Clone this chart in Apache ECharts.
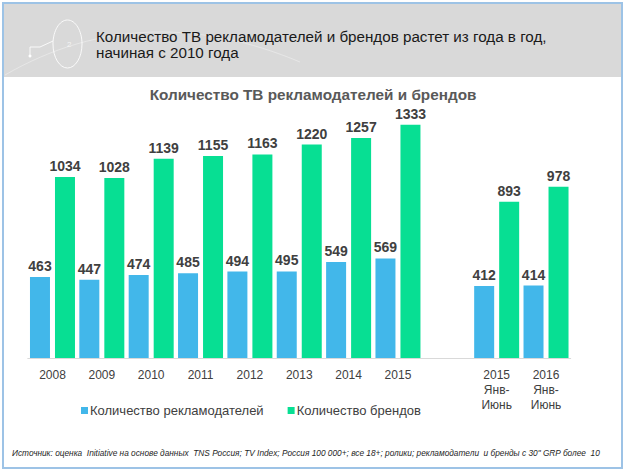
<!DOCTYPE html>
<html>
<head>
<meta charset="utf-8">
<script src="https://cdn.jsdelivr.net/npm/echarts@6/dist/echarts.min.js"></script>
<style>
html,body{margin:0;padding:0;background:#fff;}
#c{width:626px;height:472px;}
</style>
</head>
<body>
<div id="c"></div>
<script>
var categories = ['2008','2009','2010','2011','2012','2013','2014','2015','','2015\nЯнв-\nИюнь','2016\nЯнв-\nИюнь'];
var advertisers = [463, 447, 474, 485, 494, 495, 549, 569, '-', 412, 414];
var brands = [1034, 1028, 1139, 1155, 1163, 1220, 1257, 1333, '-', 893, 978];
var seriesNames = ['Количество рекламодателей', 'Количество брендов'];
var headerText = 'Количество ТВ рекламодателей и брендов растет из года в год,\nначиная с 2010 года';
var chartTitle = 'Количество ТВ рекламодателей и брендов';
var sourceNote = 'Источник: оценка  Initiative на основе данных  TNS Россия; TV Index; Россия 100 000+; все 18+; ролики; рекламодатели  и бренды с 30" GRP более  10';

var chart = echarts.init(document.getElementById('c'), null, {renderer: 'svg'});
var font = '"Liberation Sans", Arial, sans-serif';
chart.setOption({
  animation: false,
  backgroundColor: '#ffffff',
  textStyle: {fontFamily: font},
  title: {
    text: chartTitle,
    left: 'center',
    top: 82,
    textStyle: {fontSize: 15.3, fontWeight: 'bold', color: '#595959', fontFamily: font}
  },
  legend: {
    data: seriesNames,
    left: 76,
    top: 399,
    itemWidth: 7,
    itemHeight: 7,
    itemGap: 24,
    icon: 'rect',
    textStyle: {fontSize: 13, color: '#404040', fontFamily: font, padding: [0, 0, 0, -3]}
  },
  grid: {left: 27.8, right: 55.3, top: 113, bottom: 114, containLabel: false},
  xAxis: {
    type: 'category',
    data: categories,
    axisLine: {lineStyle: {color: '#d9d9d9', width: 1}},
    axisTick: {show: false},
    axisLabel: {interval: 0, margin: 9, fontSize: 12, color: '#404040', lineHeight: 15, fontFamily: font}
  },
  yAxis: {type: 'value', min: 0, max: 1400, show: false, splitLine: {show: false}},
  series: [
    {
      name: seriesNames[0], type: 'bar', data: advertisers,
      barWidth: 20, barGap: '25%',
      itemStyle: {color: '#42b7ea'},
      label: {show: true, position: 'top', distance: 4, fontSize: 14, fontWeight: 'bold', color: '#404040', fontFamily: font}
    },
    {
      name: seriesNames[1], type: 'bar', data: brands,
      barWidth: 20, barGap: '25%',
      itemStyle: {color: '#07df93'},
      label: {show: true, position: 'top', distance: 4, fontSize: 14, fontWeight: 'bold', color: '#404040', fontFamily: font}
    }
  ],
  graphic: [
    {type: 'rect', z: -10, shape: {x: 3, y: 3, width: 619, height: 74}, style: {fill: '#d9d9d9'}},
    {type: 'bezierCurve', z: -9, shape: {x1: 5, y1: 75, x2: 300, y2: 62, cpx1: 100, cpy1: 20, cpx2: 200, cpy2: 20}, style: {stroke: 'rgba(255,255,255,0.35)', lineWidth: 1, fill: null}},
    {type: 'ellipse', z: -8, shape: {cx: 67.5, cy: 44, rx: 14.5, ry: 24}, style: {stroke: 'rgba(255,255,255,0.85)', lineWidth: 1, fill: null}},
    {type: 'polyline', z: -8, shape: {points: [[30, 56], [30, 47], [40, 47], [53, 41]]}, style: {stroke: 'rgba(255,255,255,0.85)', lineWidth: 1, fill: null}},
    {type: 'circle', z: -8, shape: {cx: 30, cy: 56, r: 1.5}, style: {fill: '#ffffff'}},
    {type: 'text', z: -7, left: 67, top: 40, style: {text: '2', fontSize: 8, fill: '#f4f4f4', fontFamily: font}},
    {type: 'text', left: 96, top: 28, style: {text: headerText, fontSize: 15.2, lineHeight: 16.5, fill: '#1a1a1a', fontFamily: font}},
    {type: 'text', left: 12, top: 449, style: {text: sourceNote, fontSize: 8.3, fontStyle: 'italic', fill: '#262626', fontFamily: font}},
    {type: 'rect', z: 100, shape: {x: 3, y: 3, width: 619, height: 465}, style: {fill: null, stroke: '#9dc3e6', lineWidth: 2}}
  ]
});
</script>
</body>
</html>
